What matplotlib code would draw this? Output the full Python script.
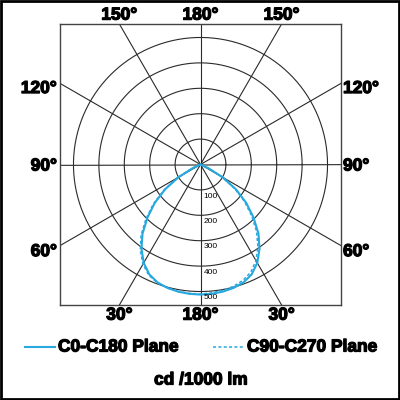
import numpy as np
import matplotlib as mpl
mpl.use('Agg')
import matplotlib.pyplot as plt
import matplotlib.patheffects as pe
from matplotlib.patches import Rectangle

# intensities (cd/1000 lm) vs gamma angle
gamma = [0, 5, 10, 15, 20, 25, 30, 35, 40, 45, 50, 55, 60, 65, 70, 75, 80, 85, 90]
c0_c180 = [512, 511, 508, 503, 494, 477, 447, 405, 355, 295, 235, 170, 100, 35, 0, 0, 0, 0, 0]
c90 = [508, 507, 503, 497, 486, 468, 437, 394, 343, 284, 226, 163, 95, 32, 0, 0, 0, 0, 0]
c270 = [510, 509, 507, 503, 496, 481, 453, 413, 364, 304, 243, 176, 104, 37, 0, 0, 0, 0, 0]
rings = [100, 200, 300, 400, 500]
top_labels = ['150°', '180°', '150°']
bottom_labels = ['30°', '180°', '30°']
side_labels = ['120°', '90°', '60°']
legend_labels = ['C0-C180 Plane', 'C90-C270 Plane']
unit_label = 'cd /1000 lm'

col = '#27a8df'
gcol = '#2a2a2a'
lim = 553

fig = plt.figure(figsize=(4, 4), dpi=100)
ax = fig.add_axes([0.15, 0.2375, 0.7025, 0.7025])
ax.set_xlim(-lim, lim); ax.set_ylim(-lim, lim)
ax.set_aspect('equal')
ax.set_xticks([]); ax.set_yticks([])
for s in ax.spines.values():
	s.set_color('#444444'); s.set_linewidth(1.0)

# grid circles and spokes
t = np.linspace(0, 2*np.pi, 400)
for r in rings:
	ax.plot(r*np.cos(t), r*np.sin(t), color=gcol, lw=0.8)
	ax.text(12, -r-24, str(r), fontsize=6, family='Liberation Sans', ha='left', va='center')
for a in range(0, 180, 30):
	a = np.radians(a)
	ax.plot([-1000*np.sin(a), 1000*np.sin(a)], [-1000*np.cos(a), 1000*np.cos(a)], color=gcol, lw=0.8)

# curves: right half and left half
g = np.radians(gamma)
def curve(left, right):
	left = np.array(left); right = np.array(right)
	x = np.concatenate([-left[::-1]*np.sin(g[::-1]), right[1:]*np.sin(g[1:])])
	y = np.concatenate([-left[::-1]*np.cos(g[::-1]), -right[1:]*np.cos(g[1:])])
	return x, y
x, y = curve(c0_c180, c0_c180)
ax.plot(x, y, color=col, lw=1.5)
x, y = curve(c270, c90)
ax.plot(x, y, color=col, lw=1.1, linestyle=(0, (2, 1.5)))

# angle labels, heavy bold
bf = dict(family='Liberation Sans', fontweight='bold', fontsize=12.5,
	path_effects=[pe.withStroke(linewidth=0.9, foreground='black')])
tx = lim*np.tan(np.radians(30))
for xx, lab in zip([-tx, 0, tx], top_labels):
	ax.text(xx, 588, lab, ha='center', va='center', clip_on=False, **bf)
for xx, lab in zip([-tx, 0, tx], bottom_labels):
	ax.text(xx, -593, lab, ha='center', va='center', clip_on=False, **bf)
for yy, lab in zip([299, -6, -343], side_labels):
	ax.text(-565, yy, lab, ha='right', va='center', clip_on=False, **bf)
	ax.text(561, yy, lab, ha='left', va='center', clip_on=False, **bf)

# legend
fig.lines.append(plt.Line2D([25/400, 55/400], [0.1325, 0.1325], color=col, lw=1.5, transform=fig.transFigure))
fig.text(58/400, 0.1325, legend_labels[0], ha='left', va='center', **bf)
fig.lines.append(plt.Line2D([213/400, 245/400], [0.1325, 0.1325], color=col, lw=1.1, linestyle=(0, (2, 1.5)), transform=fig.transFigure))
fig.text(247/400, 0.1325, legend_labels[1], ha='left', va='center', **bf)
fig.text(201/400, 0.05, unit_label, ha='center', va='center', **bf)

# outer frame
fig.patches.append(Rectangle((0.003, 0.003), 0.994, 0.994, fill=False, lw=2.0, ec='black', transform=fig.transFigure))

plt.savefig('out.png', dpi=100)
